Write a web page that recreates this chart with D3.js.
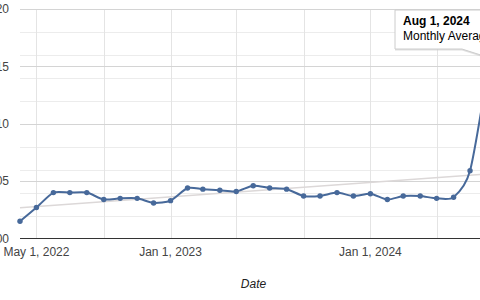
<!DOCTYPE html>
<html>
<head>
<meta charset="utf-8">
<script src="https://cdn.jsdelivr.net/npm/d3@7"></script>
<style>
  body { margin: 0; background: #fff; }
  svg { display: block; font-family: Arial, "Liberation Sans", sans-serif; }
</style>
</head>
<body>
<svg width="480" height="300"></svg>
<script>
// data
const months = [
  "2022-04-01","2022-05-01","2022-06-01","2022-07-01","2022-08-01","2022-09-01",
  "2022-10-01","2022-11-01","2022-12-01","2023-01-01","2023-02-01","2023-03-01",
  "2023-04-01","2023-05-01","2023-06-01","2023-07-01","2023-08-01","2023-09-01",
  "2023-10-01","2023-11-01","2023-12-01","2024-01-01","2024-02-01","2024-03-01",
  "2024-04-01","2024-05-01","2024-06-01","2024-07-01","2024-08-01"
];
const monthlyAverage = [
  1.015, 1.027, 1.040, 1.040, 1.040, 1.034,
  1.035, 1.035, 1.031, 1.033, 1.044, 1.043,
  1.042, 1.041, 1.046, 1.044, 1.043, 1.037,
  1.037, 1.040, 1.037, 1.039, 1.034, 1.037,
  1.037, 1.035, 1.036, 1.059, 1.142
];
const yTickValues = [1.00, 1.05, 1.10, 1.15, 1.20];
const xLabelDates = ["2022-05-01", "2023-01-01", "2024-01-01"];
const seriesName = "Monthly Average";
const tooltipIndex = 28;

const lineColor = "#47699a";
const svg = d3.select("svg");

const parse = d3.utcParse("%Y-%m-%d");
const dates = months.map(parse);
const data = dates.map((d, i) => ({date: d, value: monthlyAverage[i]}));

// the plot runs a little past the right edge, like the cropped original
const x = d3.scaleUtc().domain(d3.extent(dates)).range([20, 487]);
const y = d3.scaleLinear().domain([1.0, 1.2]).range([238.5, 9]);

// horizontal gridlines (minor then major)
svg.append("g")
  .selectAll("line")
  .data(y.ticks(8).filter(t => !yTickValues.some(v => Math.abs(v - t) < 1e-9)))
  .join("line")
  .attr("x1", 20).attr("x2", 487)
  .attr("y1", d => Math.round(y(d)) + 0.5).attr("y2", d => Math.round(y(d)) + 0.5)
  .attr("stroke", "#ececec");

// vertical gridlines every 4 months
svg.append("g")
  .selectAll("line")
  .data(d3.utcMonth.every(4).range(x.domain()[0], x.domain()[1]).filter(d => d > x.domain()[0]))
  .join("line")
  .attr("x1", d => Math.round(x(d)) + 0.5).attr("x2", d => Math.round(x(d)) + 0.5)
  .attr("y1", 9).attr("y2", 238.5)
  .attr("stroke", "#e4e4e4");

svg.append("g")
  .selectAll("line")
  .data(yTickValues.slice(1))
  .join("line")
  .attr("x1", 20).attr("x2", 487)
  .attr("y1", d => Math.round(y(d)) + 0.5).attr("y2", d => Math.round(y(d)) + 0.5)
  .attr("stroke", "#d4d4d4");

// y labels
svg.append("g")
  .selectAll("text")
  .data(yTickValues)
  .join("text")
  .attr("x", 9)
  .attr("y", d => y(d))
  .attr("dy", "0.35em")
  .attr("text-anchor", "end")
  .attr("font-size", 12)
  .attr("fill", "#444")
  .text(d3.format(".2f"));

// x labels
svg.append("g")
  .selectAll("text")
  .data(xLabelDates.map(parse))
  .join("text")
  .attr("x", d => x(d))
  .attr("y", 256)
  .attr("text-anchor", "middle")
  .attr("font-size", 12)
  .attr("fill", "#444")
  .text(d3.utcFormat("%b %-d, %Y"));

svg.append("text")
  .attr("x", (x.range()[0] + x.range()[1]) / 2)
  .attr("y", 288)
  .attr("text-anchor", "middle")
  .attr("font-size", 12)
  .attr("font-style", "italic")
  .attr("fill", "#222")
  .text("Date");

// trendline (least squares, like the source chart)
const xs = data.map(d => +d.date), ys = data.map(d => d.value);
const mx = d3.mean(xs), my = d3.mean(ys);
const slope = d3.sum(xs, (v, i) => (v - mx) * (ys[i] - my)) / d3.sum(xs, v => (v - mx) ** 2);
const trend = x.domain().map(d => ({date: d, value: my + slope * (+d - mx)}));
svg.append("path")
  .datum(trend)
  .attr("fill", "none")
  .attr("stroke", "#dcd8d8")
  .attr("stroke-width", 1.6)
  .attr("d", d3.line().x(d => x(d.date)).y(d => y(d.value)));

// baseline
svg.append("line")
  .attr("x1", 20).attr("x2", 487)
  .attr("y1", 238.5).attr("y2", 238.5)
  .attr("stroke", "#333");

// series
svg.append("path")
  .datum(data)
  .attr("fill", "none")
  .attr("stroke", lineColor)
  .attr("stroke-width", 2)
  .attr("d", d3.line().curve(d3.curveCardinal.tension(0.3)).x(d => x(d.date)).y(d => y(d.value)));

svg.append("g")
  .selectAll("circle")
  .data(data)
  .join("circle")
  .attr("cx", d => x(d.date))
  .attr("cy", d => y(d.value))
  .attr("r", 2.7)
  .attr("fill", lineColor);

// tooltip
const tp = data[tooltipIndex];
const bx = 395, by = 10, bw = 150, bh = 39;
const tipX = x(tp.date), tipY = by + bh + 8;
const tipPath = `M${bx},${by}H${bx + bw}V${by + bh}H${tipX - 4}L${tipX},${tipY}L${tipX - 25},${by + bh}H${bx}Z`;
const tip = svg.append("g");
tip.append("path").attr("d", tipPath).attr("transform", "translate(0,1.5)").attr("fill", "#ccc").attr("opacity", 0.6);
tip.append("path").attr("d", tipPath).attr("fill", "#fff").attr("stroke", "#ccc");
tip.append("text")
  .attr("x", bx + 8).attr("y", 25)
  .attr("font-size", 12).attr("font-weight", "bold").attr("fill", "#000")
  .text(d3.utcFormat("%b %-d, %Y")(tp.date));
tip.append("text")
  .attr("x", bx + 8).attr("y", 40)
  .attr("font-size", 12).attr("fill", "#000")
  .text(`${seriesName}: ${d3.format(".3f")(tp.value)}`);
</script>
</body>
</html>
